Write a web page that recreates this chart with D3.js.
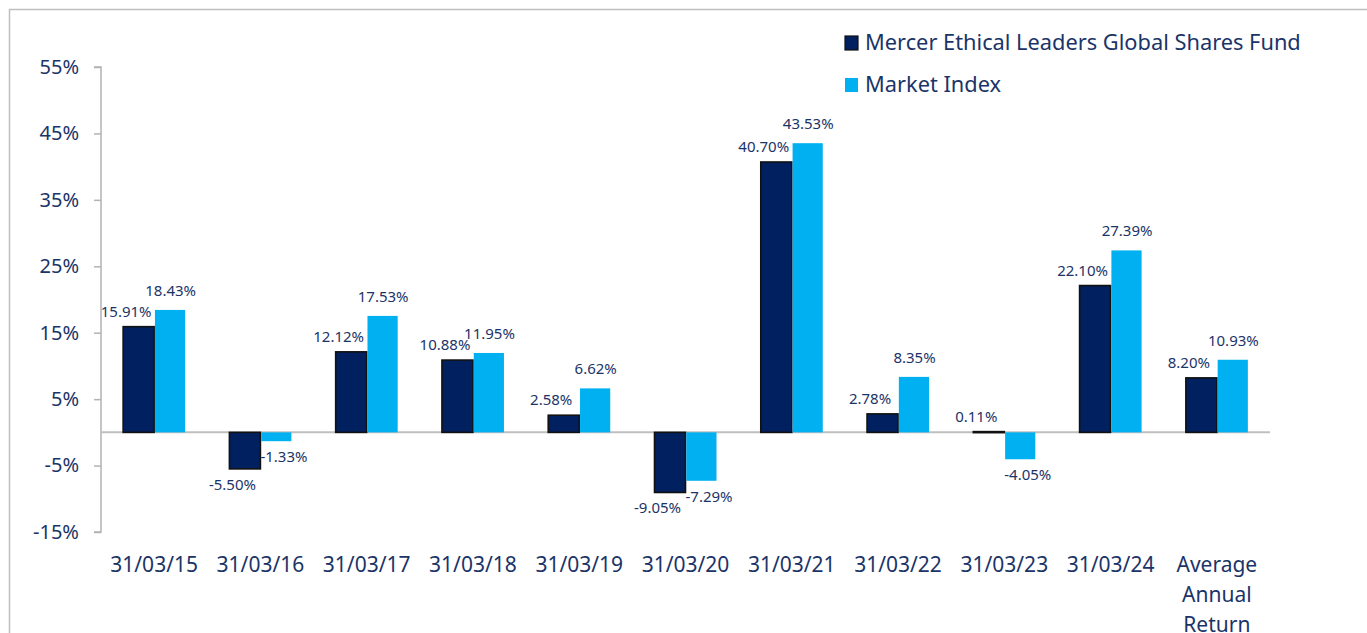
<!DOCTYPE html>
<html><head><meta charset="utf-8">
<script src="https://cdn.jsdelivr.net/npm/d3@7/dist/d3.min.js"></script>
<style>body{margin:0;background:#fff}svg{display:block}text{font-family:"Noto Sans","Open Sans",sans-serif}</style>
</head><body><svg id="c" width="1367" height="633"></svg>
<script>
const categories = ["31/03/15","31/03/16","31/03/17","31/03/18","31/03/19","31/03/20","31/03/21","31/03/22","31/03/23","31/03/24","Average Annual Return"];
const fundValues = [15.91,-5.50,12.12,10.88,2.58,-9.05,40.70,2.78,0.11,22.10,8.20];
const indexValues = [18.43,-1.33,17.53,11.95,6.62,-7.29,43.53,8.35,-4.05,27.39,10.93];
const seriesNames = ["Mercer Ethical Leaders Global Shares Fund","Market Index"];
const yTicks = [55,45,35,25,15,5,-5,-15];

const navy = "#002060", cyan = "#00B0F0", txt = "#1b3468", grey = "#b3b3b3";
const svg = d3.select("#c");

// frame
svg.append("path").attr("d","M9.5,633 V9.5 H1367").attr("fill","none").attr("stroke","#bfbfbf").attr("stroke-width",1.5);

const x0 = d3.scaleBand().domain(categories).range([101,1270]).padding(0);
const y = d3.scaleLinear().domain([-15,55]).range([532,67]);
const barW = 31;

// y axis
const yAxis = svg.append("g").attr("transform","translate(101,0)")
  .call(d3.axisLeft(y).tickValues(yTicks).tickSize(7).tickPadding(15).tickFormat(d=>d+"%"));
yAxis.select(".domain").attr("stroke",grey).attr("stroke-width",1.5).attr("d","M-7,"+y(55)+"H0V"+y(-15)+"H-7");
yAxis.selectAll(".tick line").attr("stroke",grey).attr("stroke-width",1.5);
yAxis.selectAll(".tick text").attr("fill",txt).attr("font-size",20).attr("font-family",'"Noto Sans",sans-serif');

// zero line
svg.append("line").attr("x1",101).attr("x2",1270).attr("y1",y(0)).attr("y2",y(0)).attr("stroke","#bfbfbf").attr("stroke-width",2);

const cx = c => x0(c) + x0.bandwidth()/2;

// fund bars
svg.selectAll("rect.fund").data(fundValues).enter().append("rect").attr("class","fund")
  .attr("x",(d,i)=>cx(categories[i])-barW)
  .attr("y",d=>y(Math.max(0,d))).attr("width",barW)
  .attr("height",d=>Math.max(1,Math.abs(y(d)-y(0))))
  .attr("fill",navy).attr("stroke","#111").attr("stroke-width",1.6);
// index bars
svg.selectAll("rect.idx").data(indexValues).enter().append("rect").attr("class","idx")
  .attr("x",(d,i)=>cx(categories[i])+0.8)
  .attr("y",d=>y(Math.max(0,d))).attr("width",barW-0.8)
  .attr("height",d=>Math.abs(y(d)-y(0)))
  .attr("fill",cyan);

const fmt = d=>d.toFixed(2)+"%";
// fund labels
svg.selectAll("text.fl").data(fundValues).enter().append("text").attr("class","fl")
  .attr("x",(d,i)=>cx(categories[i])-barW+3)
  .attr("y",d=>d>=0? y(d)-10 : y(d)+21)
  .attr("text-anchor","middle").attr("font-size",15).attr("fill",txt).text(fmt);
// index labels
svg.selectAll("text.il").data(indexValues).enter().append("text").attr("class","il")
  .attr("x",(d,i)=>cx(categories[i])+barW/2+(d<0?8:1))
  .attr("y",d=>d>=0? y(d)-14 : y(d)+21)
  .attr("text-anchor","middle").attr("font-size",15).attr("fill",txt).text(fmt);

// x labels
categories.forEach(c=>{
  const words = c==="Average Annual Return" ? c.split(" ") : [c];
  const t = svg.append("text").attr("x",cx(c)).attr("y",572).attr("text-anchor","middle")
    .attr("font-size",21).attr("fill",txt);
  words.forEach((w,j)=>t.append("tspan").attr("x",cx(c)).attr("dy",j?30:0).text(w));
});

// legend
const leg = svg.append("g");
[navy,cyan].forEach((col,i)=>{
  leg.append("rect").attr("x",845).attr("y",36+i*42).attr("width",13).attr("height",14)
    .attr("fill",col).attr("stroke",i? "none":"#111").attr("stroke-width",1.2);
  leg.append("text").attr("x",865).attr("y",50+i*42).attr("font-size",21.8).attr("fill",txt).text(seriesNames[i]);
});
</script></body></html>
